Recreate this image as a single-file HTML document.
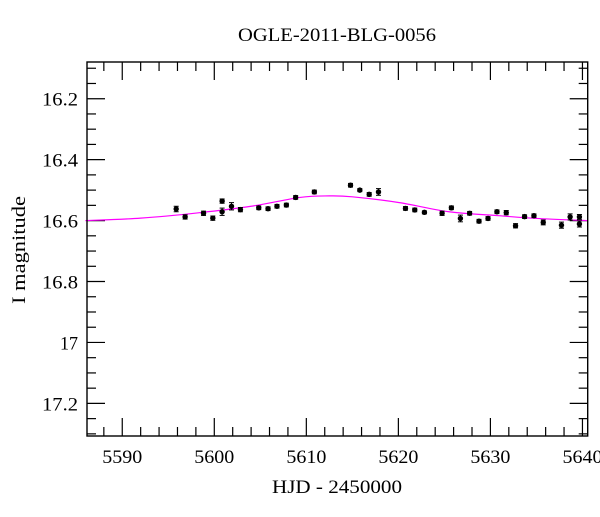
<!DOCTYPE html>
<html><head><meta charset="utf-8"><style>
body{margin:0;background:#fff}
svg text{font-family:"Liberation Serif",serif;fill:#000}
</style></head><body>
<svg id="c" width="600" height="512" viewBox="0 0 600 512" xmlns="http://www.w3.org/2000/svg">
<text x="337" y="41" font-size="19" text-anchor="middle" textLength="198" lengthAdjust="spacingAndGlyphs">OGLE-2011-BLG-0056</text>
<text transform="translate(25,250) rotate(-90)" font-size="19" text-anchor="middle" textLength="108" lengthAdjust="spacingAndGlyphs">I magnitude</text>
<text x="337" y="493" font-size="19" text-anchor="middle" textLength="130" lengthAdjust="spacingAndGlyphs">HJD - 2450000</text>
<g id="ticks"></g>
<g id="model"></g>
<g id="pts"></g>
<rect x="87" y="62" width="500.7" height="374" fill="none" stroke="#000" stroke-width="1.4"/>
</svg>
<script>
const hjd=[5595.86,5596.83,5598.83,5599.84,5600.85,5600.85,5601.87,5602.84,5604.83,5605.84,5606.81,5607.83,5608.84,5610.87,5614.80,5615.81,5616.83,5617.84,5620.77,5621.78,5622.83,5624.75,5625.76,5626.74,5627.74,5628.76,5629.74,5630.71,5631.72,5632.73,5633.71,5634.73,5635.74,5637.72,5638.66,5639.67,5639.67];
const mag=[16.562,16.588,16.576,16.592,16.536,16.571,16.553,16.564,16.558,16.561,16.553,16.549,16.524,16.506,16.484,16.500,16.514,16.506,16.560,16.565,16.573,16.576,16.558,16.593,16.576,16.602,16.593,16.571,16.574,16.617,16.587,16.584,16.606,16.615,16.588,16.588,16.611];
const err=[0.009,0.007,0.007,0.007,0.007,0.012,0.012,0.007,0.006,0.006,0.006,0.006,0.006,0.006,0.006,0.005,0.006,0.011,0.006,0.006,0.005,0.007,0.006,0.011,0.006,0.006,0.006,0.006,0.007,0.007,0.006,0.006,0.008,0.01,0.01,0.008,0.01];
const modelT=[5586,5592,5598.4,5604,5609.3,5612.5,5615,5620.1,5625.5,5630.9,5635,5640.6];
const modelM=[16.600,16.592,16.574,16.553,16.524,16.519,16.522,16.541,16.571,16.584,16.593,16.600];
const xTicks=[5590,5600,5610,5620,5630,5640];
const yTicks=[16.2,16.4,16.6,16.8,17,17.2];
const yLabels=["16.2","16.4","16.6","16.8","17","17.2"];
const X0=87,X1=587.7,Y0=62,Y1=436,T0=5586.17,T1=5640.57,M0=16.0795,M1=17.307;
const sx=t=>X0+(t-T0)/(T1-T0)*(X1-X0);
const sy=m=>Y0+(m-M0)/(M1-M0)*(Y1-Y0);
const NS="http://www.w3.org/2000/svg";
function mk(tag,attrs,parent){const e=document.createElementNS(NS,tag);for(const k in attrs)e.setAttribute(k,attrs[k]);parent.appendChild(e);return e;}
const tg=document.getElementById('ticks');
for(let t=5588;t<=5640;t+=2){const x=sx(t);const major=(t%10===0);const L=major?18:9;
 const a=mk('line',{x1:x,x2:x,y1:Y1,y2:Y1-L,stroke:'#000','stroke-width':1.2},tg);
 
 
 const b=mk('line',{x1:x,x2:x,y1:Y0,y2:Y0+L,stroke:'#000','stroke-width':1.2},tg);
 
 }
xTicks.forEach(t=>{const e=mk('text',{x:sx(t),y:463,'font-size':19,'text-anchor':'middle',textLength:40,lengthAdjust:'spacingAndGlyphs'},tg);e.textContent=t;
 
 });
for(let i=0;i<=25;i++){const m=16.1+i*0.05;if(m>M1)break;const y=sy(m);const major=(i%4===2);const L=major?18:9;
 const a=mk('line',{x1:X0,x2:X0+L,y1:y,y2:y,stroke:'#000','stroke-width':1.2},tg);
 
 
 const b=mk('line',{x1:X1,x2:X1-L,y1:y,y2:y,stroke:'#000','stroke-width':1.2},tg);
 
 }
yTicks.forEach((m,i)=>{const w=yLabels[i].length*9;const e=mk('text',{x:78,y:sy(m)+7,'font-size':19,'text-anchor':'end',textLength:w,lengthAdjust:'spacingAndGlyphs'},tg);e.textContent=yLabels[i];
 
 });
const mg=document.getElementById('model');
// smooth path through model samples (Catmull-Rom)
const P=modelT.map((t,i)=>[sx(t),sy(modelM[i])]);
let d='M'+P[0][0]+','+P[0][1];
for(let i=0;i<P.length-1;i++){const p0=P[Math.max(0,i-1)],p1=P[i],p2=P[i+1],p3=P[Math.min(P.length-1,i+2)];
 d+=' C'+(p1[0]+(p2[0]-p0[0])/6)+','+(p1[1]+(p2[1]-p0[1])/6)+' '+(p2[0]-(p3[0]-p1[0])/6)+','+(p2[1]-(p3[1]-p1[1])/6)+' '+p2[0]+','+p2[1];}
const p=mk('path',{d:d,fill:'none',stroke:'#ff00ff','stroke-width':1.2},mg);


const pg=document.getElementById('pts');
hjd.forEach((t,i)=>{const x=sx(t),y=sy(mag[i]),ya=sy(mag[i]-err[i]),yb=sy(mag[i]+err[i]);
 const g=mk('g',{},pg);
 
 
 mk('line',{x1:x,x2:x,y1:ya,y2:yb,stroke:'#000','stroke-width':1},g);
 mk('line',{x1:x-2.5,x2:x+2.5,y1:ya,y2:ya,stroke:'#000','stroke-width':1},g);
 mk('line',{x1:x-2.5,x2:x+2.5,y1:yb,y2:yb,stroke:'#000','stroke-width':1},g);
 mk('circle',{cx:x,cy:y,r:2.7,fill:'#000'},g);});
</script>
</body></html>
